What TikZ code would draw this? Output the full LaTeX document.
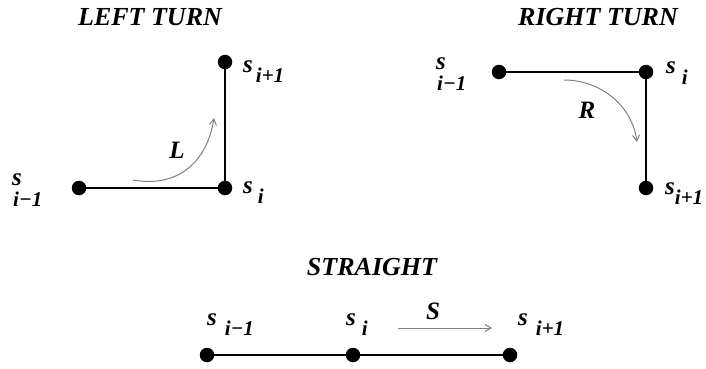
\documentclass[tikz,border=0pt]{standalone}
\usepackage{fontspec}
\setmainfont{Liberation Serif}
\usetikzlibrary{arrows.meta}
\newcommand{\subfont}{\bfseries\itshape\fontsize{21}{21}\selectfont}
% lowered index after the letter s; optional kern before it
\newcommand{\sub}[2][4pt]{\raisebox{-10.5pt}{\kern#1\subfont #2}}
\begin{document}
\begin{tikzpicture}[x=1pt,y=-1pt,
  dot/.style={circle,fill=black,inner sep=0pt,minimum size=14.5pt},
  edge/.style={line width=2.2pt,black},
  turn/.style={draw=black!50,line width=1pt,-{Straight Barb[length=6pt,width=7pt]}},
  title/.style={font=\bfseries\itshape\fontsize{26}{26}\selectfont,inner sep=0pt},
  lbl/.style={font=\bfseries\itshape\fontsize{25}{25}\selectfont,inner sep=0pt,anchor=base west}]
\useasboundingbox (0,0) rectangle (706,369);

% left turn
\node[title] (tl) at (150,17) {LEFT TURN};
\node[dot] (a1) at (79,188) {};
\node[dot] (a2) at (225,188) {};
\node[dot] (a3) at (225,62) {};
\draw[edge] (a1) -- (a2) -- (a3);
\node[lbl] (la1s) at (12,185) {s};
\node[lbl,font=\subfont] (la1i) at (13,206) {i−1};
\node[lbl] (la2) at (243,193) {s\sub[5pt]{i}};
\node[lbl] (la3) at (243,72) {s\sub[3pt]{i+1}};
\coordinate (l0) at (133,180);
\coordinate (l1) at (214,118);
\draw[turn] (l0) .. controls (178,188) and (207,162) .. (l1);
\node[lbl,anchor=center] (lL) at (177,150) {L};

% right turn
\node[title] (tr) at (598,17) {RIGHT TURN};
\node[dot] (b1) at (499,72) {};
\node[dot] (b2) at (646,72) {};
\node[dot] (b3) at (646,188) {};
\draw[edge] (b1) -- (b2) -- (b3);
\node[lbl] (lb1s) at (436,69) {s};
\node[lbl,font=\subfont] (lb1i) at (437,90) {i−1};
\node[lbl] (lb2) at (666,74) {s\sub[6pt]{i}};
\node[lbl] (lb3) at (665,194) {s\sub[0pt]{i+1}};
\coordinate (r0) at (564,80);
\coordinate (r1) at (637,142);
\draw[turn] (r0) .. controls (600,80) and (632,105) .. (r1);
\node[lbl,anchor=center] (lR) at (587,110) {R};

% straight
\node[title] (ts) at (372,267) {STRAIGHT};
\node[dot] (c1) at (207,355) {};
\node[dot] (c2) at (353,355) {};
\node[dot] (c3) at (510,355) {};
\draw[edge] (c1) -- (c2) -- (c3);
\node[lbl] (lc1) at (207,325) {s\sub[8pt]{i−1}};
\node[lbl] (lc2) at (346,325) {s\sub[6pt]{i}};
\node[lbl] (lc3) at (518,325) {s\sub[8pt]{i+1}};
\coordinate (s0) at (398,328);
\coordinate (s1) at (492,328);
\draw[turn] (s0) -- (s1);
\node[lbl,anchor=center] (lS) at (433,311) {S};
\end{tikzpicture}
\end{document}
